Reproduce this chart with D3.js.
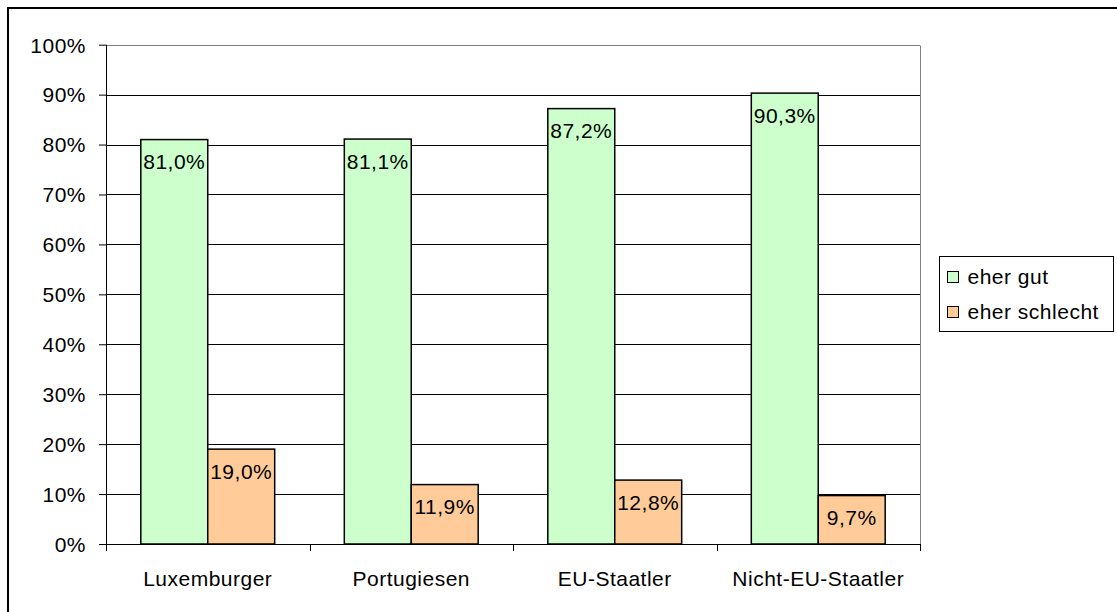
<!DOCTYPE html>
<html>
<head>
<meta charset="utf-8">
<script src="https://cdn.jsdelivr.net/npm/d3@7"></script>
<style>
  body { margin: 0; background: #fff; }
  svg text { font-family: "Liberation Sans", Arial, sans-serif; font-size: 21px; letter-spacing: 0.5px; fill: #000; }
</style>
</head>
<body>
<div id="chart-container"></div>
<script>
// data
const categories = ["Luxemburger", "Portugiesen", "EU-Staatler", "Nicht-EU-Staatler"];
const seriesNames = ["eher gut", "eher schlecht"];
const eherGut = [81.0, 81.1, 87.2, 90.3];
const eherSchlecht = [19.0, 11.9, 12.8, 9.7];
const yTicks = [0, 10, 20, 30, 40, 50, 60, 70, 80, 90, 100];

const seriesColors = ["#ccffcc", "#ffcc99"];

function drawChart(width, height) {
    const plot = { left: 106, right: 920, top: 44.7, bottom: 544 };

    const svg = d3.select("#chart-container")
        .append("svg")
        .attr("width", width)
        .attr("height", height);

    // outer frame (runs off the right and bottom edges)
    svg.append("rect")
        .attr("x", 8).attr("y", 8)
        .attr("width", width + 10).attr("height", height + 10)
        .attr("fill", "none")
        .attr("stroke", "#000")
        .attr("stroke-width", 2);

    const x0 = d3.scaleBand()
        .domain(categories)
        .range([plot.left, plot.right])
        .padding(0);

    const x1 = d3.scaleBand()
        .domain(seriesNames)
        .range([0, x0.bandwidth()])
        .paddingInner(0)
        .paddingOuter(0.52);

    const y = d3.scaleLinear()
        .domain([0, 100])
        .range([plot.bottom, plot.top]);

    // gridlines
    svg.append("g")
        .selectAll("line")
        .data(yTicks.filter(d => d > 0))
        .enter()
        .append("line")
        .attr("x1", plot.left)
        .attr("x2", plot.right)
        .attr("y1", d => Math.round(y(d)) + 0.5)
        .attr("y2", d => Math.round(y(d)) + 0.5)
        .attr("stroke", d => d === 100 ? "#808080" : "#000")
        .attr("stroke-width", 1);

    // right border of plot area
    svg.append("line")
        .attr("x1", plot.right + 0.5).attr("x2", plot.right + 0.5)
        .attr("y1", Math.round(y(100)) + 0.5).attr("y2", plot.bottom)
        .attr("stroke", "#808080");

    // bars
    const rows = categories.map((c, i) => ({
        cat: c,
        values: [
            { name: seriesNames[0], value: eherGut[i], color: seriesColors[0] },
            { name: seriesNames[1], value: eherSchlecht[i], color: seriesColors[1] }
        ]
    }));

    const groups = svg.append("g")
        .selectAll("g")
        .data(rows)
        .enter()
        .append("g")
        .attr("transform", d => `translate(${x0(d.cat)},0)`);

    groups.selectAll("rect")
        .data(d => d.values)
        .enter()
        .append("rect")
        .attr("x", d => x1(d.name))
        .attr("y", d => y(d.value))
        .attr("width", x1.bandwidth())
        .attr("height", d => y(0) - y(d.value))
        .attr("fill", d => d.color)
        .attr("stroke", "#000")
        .attr("stroke-width", 1.5);

    groups.selectAll("text")
        .data(d => d.values)
        .enter()
        .append("text")
        .attr("x", d => x1(d.name) + x1.bandwidth() / 2)
        .attr("y", d => y(d.value) + 29.5)
        .attr("text-anchor", "middle")
        .text(d => d.value.toFixed(1).replace(".", ",") + "%");

    // y axis
    const yAxis = svg.append("g")
        .attr("transform", `translate(${plot.left},0)`)
        .call(d3.axisLeft(y).tickValues(yTicks).tickSize(7).tickPadding(13).tickFormat(d => d + "%"));
    yAxis.select(".domain").attr("stroke", "#000").attr("d", `M0.5,${plot.top}V${plot.bottom + 7}`);
    yAxis.selectAll(".tick line").attr("stroke", "#000");
    yAxis.selectAll("text").attr("dy", "0.35em").style("font-size", "21px").style("font-family", null);

    // x axis
    const xAxis = svg.append("g")
        .attr("transform", `translate(0,${plot.bottom})`);
    xAxis.append("line")
        .attr("x1", plot.left - 7).attr("x2", plot.right)
        .attr("y1", 0.5).attr("y2", 0.5)
        .attr("stroke", "#000");
    xAxis.selectAll(".sep")
        .data(categories.map(c => x0(c) + x0.bandwidth()))
        .enter()
        .append("line")
        .attr("class", "sep")
        .attr("x1", d => Math.round(d) + 0.5).attr("x2", d => Math.round(d) + 0.5)
        .attr("y1", 0).attr("y2", 7)
        .attr("stroke", "#000");
    xAxis.selectAll(".cat")
        .data(categories)
        .enter()
        .append("text")
        .attr("class", "cat")
        .attr("x", d => x0(d) + x0.bandwidth() / 2)
        .attr("y", 42)
        .attr("text-anchor", "middle")
        .text(d => d);

    // legend
    const legend = svg.append("g").attr("transform", "translate(939.5,256.5)");
    legend.append("rect")
        .attr("width", 174).attr("height", 75)
        .attr("fill", "#fff").attr("stroke", "#000");
    const items = legend.selectAll(".item")
        .data(seriesNames)
        .enter()
        .append("g")
        .attr("transform", (d, i) => `translate(0,${i * 35})`);
    items.append("rect")
        .attr("x", 8).attr("y", 15)
        .attr("width", 11).attr("height", 11)
        .attr("fill", (d, i) => seriesColors[i])
        .attr("stroke", "#000");
    items.append("text")
        .attr("x", 28).attr("y", 27)
        .text(d => d);
}

drawChart(1117, 612);
</script>
</body>
</html>
